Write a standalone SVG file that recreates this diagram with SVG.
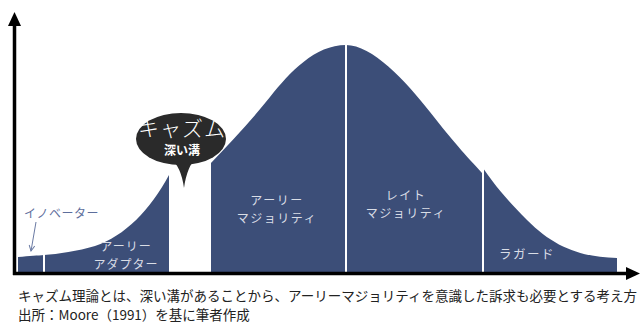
<svg xmlns="http://www.w3.org/2000/svg" width="641" height="326" viewBox="0 0 641 326">
<style>
.seg{fill:#3c4e78}
.div{stroke:#ffffff;stroke-width:2}
.lbl{font-family:"Noto Sans CJK JP","Noto Sans",sans-serif;font-size:12px;fill:#d9dde6;text-anchor:middle;letter-spacing:1.5px}
.cap{font-family:"Noto Sans CJK JP","Noto Sans",sans-serif;font-size:13.5px;fill:#222222}
.axis{stroke:#000000;stroke-width:3.5;fill:none}
</style>
<defs>
<marker id="ah" viewBox="0 0 10 10" refX="9" refY="5" markerWidth="7" markerHeight="7" orient="auto-start-reverse" markerUnits="userSpaceOnUse">
<path d="M1,1 L9,5 L1,9" fill="none" stroke="#6a7aa3" stroke-width="1.4"/>
</marker>
</defs>
<rect width="641" height="326" fill="#ffffff"/>
<g id="innovators">
<path class="seg" d="M18,272 L18,257 C30,256 38,255.5 44,255 L44,272 Z"/>
</g>
<g id="early-adopters">
<path class="seg" d="M44,272 L44,255 C58,254 78,251 95,246 C125,236 150,210 169,175 L169,272 Z"/>
<text class="lbl" x="126" y="251" style="letter-spacing:1px">アーリー</text>
<text class="lbl" x="126" y="269" style="letter-spacing:1px">アダプター</text>
</g>
<g id="early-majority">
<path class="seg" d="M211,272 L211,163 C231,142 250,122 270,97 C290,72 315,45 346,45 L346,272 Z"/>
<text class="lbl" x="277" y="205">アーリー</text>
<text class="lbl" x="277" y="223">マジョリティ</text>
</g>
<g id="late-majority">
<path class="seg" d="M346,272 L346,45 C372,45 405,80 430,112 C455,144 470,160 484,175 L484,272 Z"/>
<text class="lbl" x="406" y="200">レイト</text>
<text class="lbl" x="406" y="218">マジョリティ</text>
</g>
<g id="laggards">
<path class="seg" d="M483,272 L483,168 C490,178 500,193 527,220 C554,247 580,257 617,258 L617,272 Z"/>
<text class="lbl" x="527" y="259" style="font-size:12.5px">ラガード</text>
</g>
<g id="dividers">
<line class="div" x1="44" y1="254" x2="44" y2="272"/>
<line class="div" x1="346" y1="44" x2="346" y2="272"/>
<line class="div" x1="483" y1="166" x2="483" y2="272"/>
</g>
<g id="innovators-label">
<text x="24" y="218" style="font-family:'Noto Sans CJK JP','Noto Sans',sans-serif;font-size:12px;fill:#5d6e9c;letter-spacing:0.5px">イノベーター</text>
</g>
<g id="chasm">
<ellipse cx="181" cy="139" rx="45" ry="26" fill="#2a2a2a"/>
<path d="M170,158 Q181,166 184,188 Q187,166 197,157 Z" fill="#2a2a2a"/>
<text x="182" y="136" text-anchor="middle" style="font-family:'Noto Sans CJK JP','Noto Sans',sans-serif;font-size:21px;font-weight:300;fill:#ffffff;letter-spacing:1px">キャズム</text>
<text x="182" y="155" text-anchor="middle" style="font-family:'Noto Sans CJK JP','Noto Sans',sans-serif;font-size:12px;font-weight:bold;fill:#ffffff">深い溝</text>
</g>
<g id="connectors">
<line x1="36" y1="222" x2="31" y2="251" stroke="#6a7aa3" stroke-width="1" marker-end="url(#ah)"/>
<line class="axis" x1="14.5" y1="24" x2="14.5" y2="275"/>
<polygon points="14.5,12 8,26 21,26" fill="#000000"/>
<line class="axis" x1="13" y1="273.5" x2="628" y2="273.5"/>
<polygon points="640,273.5 626,267 626,280" fill="#000000"/>
</g>
<g id="caption">
<text class="cap" x="18" y="301" textLength="619" lengthAdjust="spacingAndGlyphs">キャズム理論とは、深い溝があることから、アーリーマジョリティを意識した訴求も必要とする考え方</text>
<text class="cap" x="18" y="320">出所：Moore（1991）を基に筆者作成</text>
</g>
</svg>
